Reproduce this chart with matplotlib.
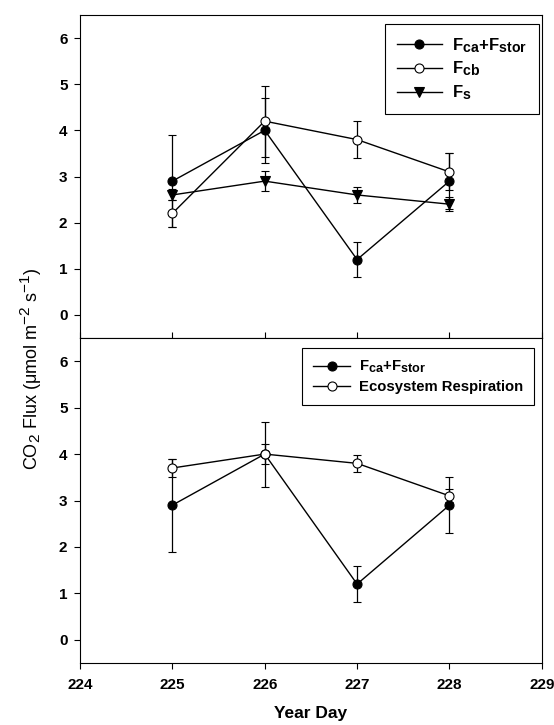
import numpy as np
import matplotlib.pyplot as plt
import matplotlib._mathtext as mtext
from matplotlib.lines import Line2D

plt.rcParams['font.family'] = ['Liberation Sans', 'DejaVu Sans']
plt.rcParams['mathtext.fontset'] = 'custom'
plt.rcParams['mathtext.rm'] = 'Liberation Sans'
plt.rcParams['mathtext.bf'] = 'Liberation Sans:bold'
plt.rcParams['mathtext.it'] = 'Liberation Sans:italic'
# indices presque pleine taille comme sur l'original
mtext.SHRINK_FACTOR = 0.85

# donnees
days = [225, 226, 227, 228]
fca_fstor = [2.9, 4.0, 1.2, 2.9]
fca_fstor_err = [1.0, 0.7, 0.38, 0.6]
fcb = [2.2, 4.2, 3.8, 3.1]
fcb_err = [0.3, 0.77, 0.4, 0.4]
fs = [2.6, 2.9, 2.6, 2.4]
fs_err = [0.12, 0.22, 0.18, 0.15]
eco_resp = [3.7, 4.0, 3.8, 3.1]
eco_resp_err = [0.19, 0.22, 0.18, 0.14]

xticks = [224, 225, 226, 227, 228, 229]
yticks = [0, 1, 2, 3, 4, 5, 6]

lab_fca = r'F$_\mathbf{ca}$+F$_\mathbf{stor}$'
lab_fcb = r'F$_\mathbf{cb}$'
lab_fs = r'F$_\mathbf{s}$'
lab_eco = 'Ecosystem Respiration'

fig = plt.figure(figsize=(5.54, 7.25), dpi=100)
ax0 = fig.add_axes([0.1444, 0.5338, 0.8336, 0.4455])
ax1 = fig.add_axes([0.1444, 0.0855, 0.8336, 0.4483])

style = dict(color='k', lw=1, elinewidth=0.9, capsize=3, capthick=0.9,
             ms=6.5, mec='k', mew=0.8)

# panneau du haut
ax0.errorbar(days, fca_fstor, yerr=fca_fstor_err, fmt='-o', mfc='k', **style)
ax0.errorbar(days, fcb, yerr=fcb_err, fmt='-o', mfc='white', **style)
ax0.errorbar(days, fs, yerr=fs_err, fmt='-v', mfc='k', **style)

# panneau du bas
ax1.errorbar(days, fca_fstor, yerr=fca_fstor_err, fmt='-o', mfc='k', **style)
ax1.errorbar(days, eco_resp, yerr=eco_resp_err, fmt='-o', mfc='white', **style)

for ax in (ax0, ax1):
    ax.set_xlim(224, 229)
    ax.set_ylim(-0.5, 6.5)
    ax.set_yticks(yticks)
    ax.set_xticks(xticks)
    for s in ax.spines.values():
        s.set_linewidth(0.8)
    ax.tick_params(axis='y', direction='out', length=4, width=0.8,
                   labelsize=11, pad=5)
    for lab in ax.get_yticklabels():
        lab.set_fontweight('bold')

ax0.tick_params(axis='x', direction='in', length=4, width=0.8,
                labelbottom=False)
ax1.tick_params(axis='x', direction='out', length=4, width=0.8,
                labelsize=11, pad=7)
for lab in ax1.get_xticklabels():
    lab.set_fontweight('bold')


def handle(marker, face):
    return Line2D([], [], color='k', lw=1, marker=marker, ms=6.5,
                  mfc=face, mec='k', mew=0.8)


leg_kw = dict(frameon=True, fancybox=False, edgecolor='k', framealpha=1,
              handletextpad=0.6, numpoints=1, borderaxespad=0)
leg0 = ax0.legend([handle('o', 'k'), handle('o', 'white'), handle('v', 'k')],
                  [lab_fca, lab_fcb, lab_fs], loc='upper right',
                  bbox_to_anchor=(0.9935, 0.972), borderpad=0.72,
                  labelspacing=0.3, handlelength=2.7,
                  prop={'weight': 'bold', 'size': 12}, **leg_kw)
leg1 = ax1.legend([handle('o', 'k'), handle('o', 'white')],
                  [lab_fca, lab_eco], loc='upper right',
                  bbox_to_anchor=(0.983, 0.969), borderpad=0.72,
                  labelspacing=0.35, handlelength=2.5,
                  prop={'weight': 'bold', 'size': 10.7}, **leg_kw)
for leg in (leg0, leg1):
    leg.get_frame().set_linewidth(0.8)

ax1.set_xlabel('Year Day', fontsize=12.5, fontweight='bold', labelpad=10)
fig.text(0.056, 0.492, r'CO$_2$ Flux (μmol m$^{-2}$ s$^{-1}$)',
         rotation=90, ha='center', va='center', fontsize=13)

fig.savefig('out.png', dpi=100)
